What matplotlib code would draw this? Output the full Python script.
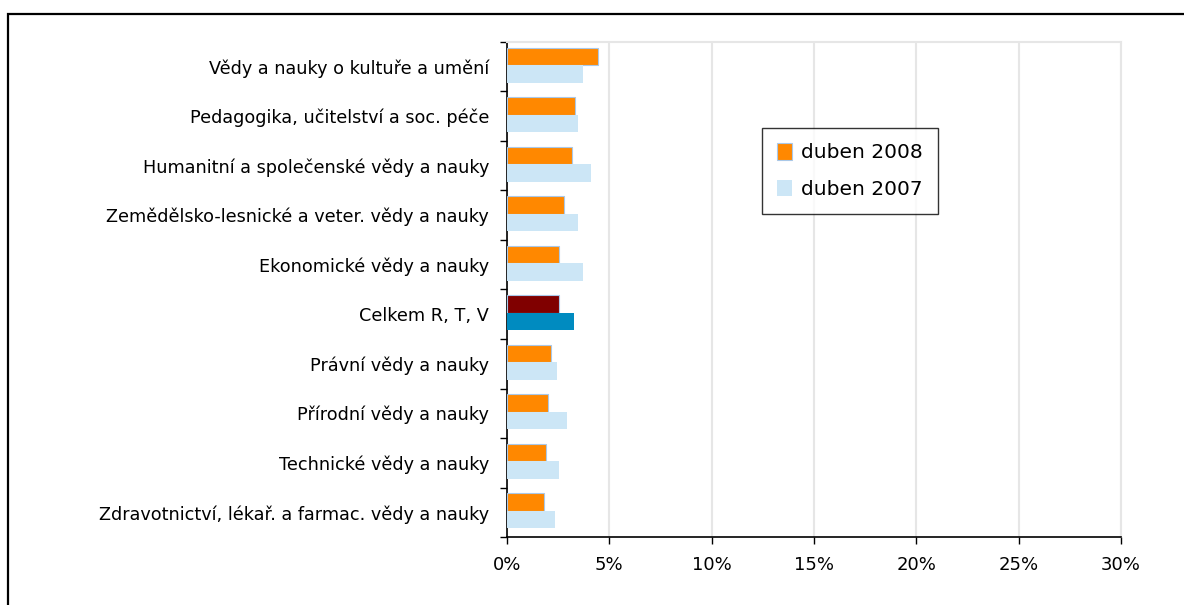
import matplotlib
matplotlib.use('Agg')
import matplotlib.pyplot as plt
import numpy as np

categories = [
    'Vědy a nauky o kultuře a umění',
    'Pedagogika, učitelství a soc. péče',
    'Humanitní a společenské vědy a nauky',
    'Zemědělsko-lesnické a veter. vědy a nauky',
    'Ekonomické vědy a nauky',
    'Celkem R, T, V',
    'Právní vědy a nauky',
    'Přírodní vědy a nauky',
    'Technické vědy a nauky',
    'Zdravotnictví, lékař. a farmac. vědy a nauky',
]
duben_2008 = [4.46, 3.34, 3.16, 2.80, 2.53, 2.53, 2.17, 1.99, 1.89, 1.79]
duben_2007 = [3.71, 3.47, 4.11, 3.47, 3.71, 3.27, 2.44, 2.93, 2.54, 2.35]
total_label = 'Celkem R, T, V'

orange = '#FF8800'
light_blue = '#CCE6F6'

fig = plt.figure(figsize=(11.84, 6.05), dpi=100)
ax = fig.add_axes([507 / 1184, 1 - 537 / 605, (1121 - 507) / 1184, (537 - 42) / 605])

# outer chart frame (runs past the right and bottom edges)
fig.patches.append(plt.Rectangle((8 / 1184, -0.05), 1.2, 1 - 13.5 / 605 + 0.05,
                                 transform=fig.transFigure, fill=False,
                                 edgecolor='black', linewidth=1.6))

y = np.arange(len(categories))
h = 0.355
c08 = ['#800000' if c == total_label else orange for c in categories]
c07 = ['#008BC0' if c == total_label else light_blue for c in categories]

ax.barh(y - h / 2 - 0.03, duben_2008, height=h, color=c08, edgecolor='#A9C8E8',
        linewidth=0.8, label='duben 2008', zorder=3)
ax.barh(y + h / 2 - 0.03, duben_2007, height=h, color=c07, linewidth=0,
        label='duben 2007', zorder=3)

ax.set_ylim(len(categories) - 0.5, -0.5)
ax.set_xlim(0, 30)
ax.set_xticks(range(0, 31, 5))
ax.set_xticklabels([f'{v}%' for v in range(0, 31, 5)], fontsize=13)
ax.set_yticks(y)
ax.set_yticklabels(categories, fontsize=12.7)
ax.set_yticks(np.arange(-0.5, len(categories), 1), minor=True)
ax.tick_params(axis='y', which='major', length=0, pad=13)
ax.tick_params(axis='y', which='minor', length=5, direction='out', width=1)
ax.tick_params(axis='x', length=5, direction='out', pad=9, width=1)

ax.grid(axis='x', color='#E6E6E6', linewidth=1.5, zorder=0)
for side in ['top', 'right']:
    ax.spines[side].set_color('#E6E6E6')
    ax.spines[side].set_linewidth(1.5)
ax.spines['left'].set_linewidth(1.2)
ax.spines['bottom'].set_linewidth(1.2)

leg = ax.legend(loc='upper left', bbox_to_anchor=((762 - 507) / 614, (537 - 128) / 495),
                borderaxespad=0, fontsize=14.5, frameon=True, fancybox=False,
                edgecolor='black', handlelength=0.75, handleheight=0.9,
                handletextpad=0.45, labelspacing=0.85, borderpad=0.75)
leg.get_frame().set_linewidth(1.0)

fig.savefig('out.png', dpi=100)
